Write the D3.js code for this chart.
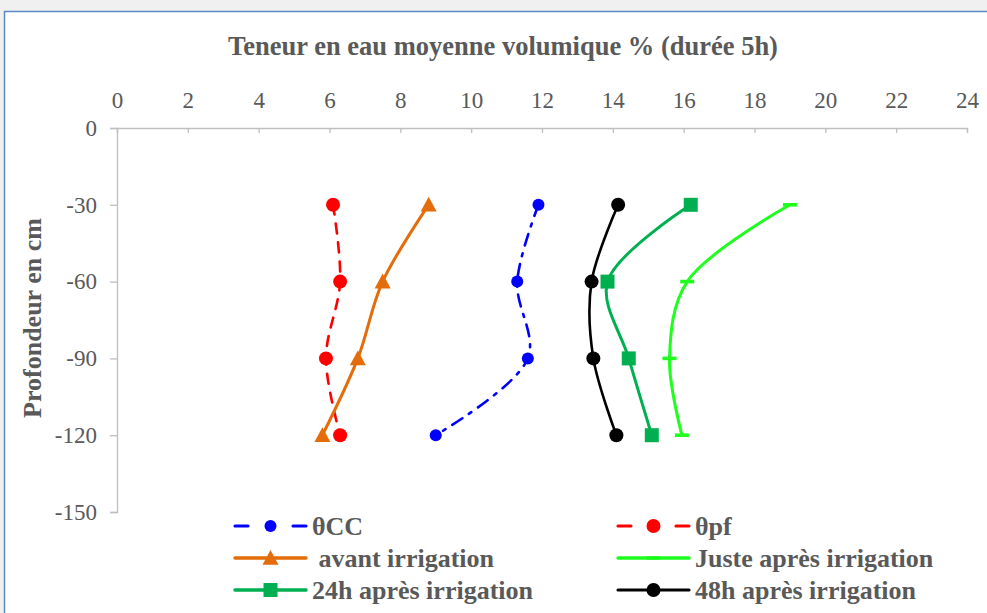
<!DOCTYPE html>
<html>
<head>
<meta charset="utf-8">
<script src="https://cdn.jsdelivr.net/npm/d3@7"></script>
<style>
  body { margin: 0; background: #f0f0f0; }
  svg { display: block; }
</style>
</head>
<body>
<script>
// depths (cm) and water content per series
var depths = [-30, -60, -90, -120];
var thetaCC = [11.9, 11.3, 11.6, 9.0];
var thetaPF = [6.1, 6.3, 5.9, 6.3];
var avantIrr = [8.8, 7.5, 6.8, 5.8];
var justeApres = [19.0, 16.1, 15.6, 15.95];
var apres24h = [16.2, 13.85, 14.45, 15.1];
var apres48h = [14.15, 13.4, 13.45, 14.1];

var xTicks = d3.range(0, 25, 2);
var yTicks = [0, -30, -60, -90, -120, -150];

var W = 987, H = 613;
var svg = d3.select("body").append("svg")
    .attr("width", W)
    .attr("height", H);

// chart frame
svg.append("rect")
    .attr("x", 4.5).attr("y", 11.5)
    .attr("width", W + 10).attr("height", H + 10)
    .attr("fill", "#fff")
    .attr("stroke", "#5b87c5")
    .attr("stroke-width", 1.5);

var x = d3.scaleLinear().domain([0, 24]).range([117, 967]);
var y = d3.scaleLinear().domain([0, -150]).range([128, 512]);

var font = "'Liberation Serif', 'Times New Roman', serif";
var grey = "#595959";

var xAxis = svg.append("g")
    .attr("transform", "translate(0," + y(0) + ")")
    .call(d3.axisBottom(x).tickValues(xTicks).tickSize(5).tickFormat(function(d) { return String(d); }));
xAxis.selectAll("text").attr("y", -20).attr("dy", null);

var yAxis = svg.append("g")
    .attr("transform", "translate(" + x(0) + ",0)")
    .call(d3.axisLeft(y).tickValues(yTicks).tickSize(7).tickPadding(13)
        .tickFormat(function(d) { return String(d); }));

svg.selectAll(".domain, .tick line").attr("stroke", "#bfbfbf").attr("stroke-width", 1.3);
svg.selectAll(".tick text")
    .attr("fill", grey)
    .style("font-family", font)
    .style("font-size", "23px");

svg.append("text")
    .attr("x", 503).attr("y", 55)
    .attr("text-anchor", "middle")
    .attr("fill", grey)
    .style("font-family", font)
    .style("font-size", "26.5px")
    .style("font-weight", "bold")
    .text("Teneur en eau moyenne volumique % (durée 5h)");

svg.append("text")
    .attr("transform", "translate(41,318) rotate(-90)")
    .attr("text-anchor", "middle")
    .attr("fill", grey)
    .style("font-family", font)
    .style("font-size", "26px")
    .style("font-weight", "bold")
    .text("Profondeur en cm");

var series = [
  {name: "θCC", values: thetaCC, color: "#0000ff", width: 2.6, dash: "12,8,3,8", marker: "circle", size: 6},
  {name: "θpf", values: thetaPF, color: "#ff0000", width: 2.6, dash: "10,9", marker: "circle", size: 7},
  {name: " avant irrigation", values: avantIrr, color: "#e46c0a", width: 3, dash: null, marker: "triangle", size: 8},
  {name: "Juste après irrigation", values: justeApres, color: "#1eff1e", width: 3, dash: null, marker: "dash", size: 7},
  {name: "24h après irrigation", values: apres24h, color: "#00b050", width: 3, dash: null, marker: "square", size: 7},
  {name: "48h après irrigation", values: apres48h, color: "#000000", width: 2.6, dash: null, marker: "circle", size: 7}
];

var line = d3.line()
    .curve(d3.curveCatmullRom.alpha(0.5))
    .x(function(d) { return x(d.v); })
    .y(function(d) { return y(d.d); });

function drawMarker(g, s, cx, cy) {
  if (s.marker === "circle") {
    g.append("circle").attr("cx", cx).attr("cy", cy).attr("r", s.size).attr("fill", s.color);
  } else if (s.marker === "square") {
    g.append("rect").attr("x", cx - s.size).attr("y", cy - s.size)
        .attr("width", s.size * 2).attr("height", s.size * 2).attr("fill", s.color);
  } else if (s.marker === "triangle") {
    var r = s.size;
    g.append("path")
        .attr("d", "M" + cx + "," + (cy - r) + "L" + (cx + r) + "," + (cy + r * 0.85) + "L" + (cx - r) + "," + (cy + r * 0.85) + "Z")
        .attr("fill", s.color);
  } else if (s.marker === "dash") {
    g.append("rect").attr("x", cx - s.size).attr("y", cy - 1.8)
        .attr("width", s.size * 2).attr("height", 3.6).attr("fill", s.color);
  }
}

series.forEach(function(s) {
  var pts = s.values.map(function(v, i) { return {v: v, d: depths[i]}; });
  var g = svg.append("g");
  g.append("path")
      .datum(pts)
      .attr("fill", "none")
      .attr("stroke", s.color)
      .attr("stroke-width", s.width)
      .attr("stroke-dasharray", s.dash)
      .attr("stroke-linecap", "round")
      .attr("d", line);
  pts.forEach(function(p) { drawMarker(g, s, x(p.v), y(p.d)); });
});

// legend
var legX = [235, 618], legY = [526, 558, 590];
series.forEach(function(s, i) {
  var lx = legX[i % 2], ly = legY[Math.floor(i / 2)];
  var g = svg.append("g");
  var len = 71;
  g.append("line")
      .attr("x1", lx).attr("x2", lx + len)
      .attr("y1", ly).attr("y2", ly)
      .attr("stroke", s.color)
      .attr("stroke-width", s.width + 0.5)
      .attr("stroke-linecap", "round")
      .attr("stroke-dasharray", s.dash ? "13,45,13" : null);
  drawMarker(g, s, lx + len / 2, ly);
  g.append("text")
      .attr("x", lx + 77).attr("y", ly)
      .attr("dy", "0.35em")
      .attr("fill", grey)
      .attr("xml:space", "preserve")
      .style("white-space", "pre")
      .style("font-family", font)
      .style("font-size", "26px")
      .style("font-weight", "bold")
      .text(s.name);
});
</script>
</body>
</html>
